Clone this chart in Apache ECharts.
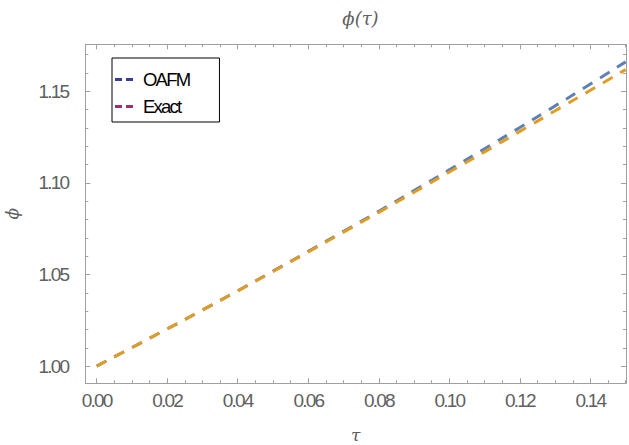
<!DOCTYPE html>
<html><head><meta charset="utf-8">
<script src="https://cdn.jsdelivr.net/npm/echarts@6/dist/echarts.min.js"></script>
<style>
html,body{margin:0;padding:0;background:#fff}
#c{width:629px;height:445px}
#c text[style*="Liberation"]{letter-spacing:-1.8px}
</style>
</head><body><div id="c"></div>
<script>
// ---- data ----
const tau   = [0, 0.01, 0.02, 0.03, 0.04, 0.05, 0.06, 0.07, 0.08, 0.09, 0.10, 0.11, 0.12, 0.13, 0.14, 0.15];
const oafm  = [1.0000, 1.0101, 1.0203, 1.0306, 1.0411, 1.0518, 1.0626, 1.0735, 1.0845, 1.0958, 1.1071, 1.1186, 1.1302, 1.1420, 1.1539, 1.1660];
const exact = [1.0000, 1.0101, 1.0203, 1.0306, 1.0410, 1.0516, 1.0623, 1.0731, 1.0839, 1.0949, 1.1059, 1.1169, 1.1281, 1.1393, 1.1505, 1.1618];
const xMajor = [0, 0.02, 0.04, 0.06, 0.08, 0.10, 0.12, 0.14];
const xMinor = [0.005, 0.01, 0.015, 0.025, 0.03, 0.035, 0.045, 0.05, 0.055, 0.065, 0.07, 0.075, 0.085, 0.09, 0.095, 0.105, 0.11, 0.115, 0.125, 0.13, 0.135, 0.145, 0.15];
const yMajor = [1.00, 1.05, 1.10, 1.15];
const yMinor = [1.01, 1.02, 1.03, 1.04, 1.06, 1.07, 1.08, 1.09, 1.11, 1.12, 1.13, 1.14, 1.16, 1.17];
const seriesNames = ['OAFM', 'Exact'];
const titleText = 'ϕ(τ)';
const xName = 'τ';
const yName = 'ϕ';

// ---- styles ----
const frameColor = '#a0a0a0';
const labelColor = '#606060';
const xMin = -0.00323, xMax = 0.1501, yMin = 0.9906, yMax = 1.1756;
const fontFam = '"Liberation Sans", Arial, sans-serif';
const nameFont = '"DejaVu Serif", serif';

function xAx(pos, ticks, len, showLine, showLabel) {
  return {
    type: 'value', position: pos, min: xMin, max: xMax, offset: 0,
    splitLine: {show: false},
    axisLine: {show: showLine, onZero: false, lineStyle: {color: frameColor, width: 1}},
    axisTick: {show: true, inside: true, length: len, customValues: ticks, lineStyle: {color: frameColor, width: 1}},
    axisLabel: showLabel ? {show: true, customValues: ticks, margin: 8, color: labelColor, fontSize: 19, fontFamily: fontFam,
      formatter: v => v.toFixed(2)} : {show: false},
    name: showLabel ? xName : '', nameLocation: 'middle', nameGap: 43,
    nameTextStyle: {color: labelColor, fontSize: 17, fontStyle: 'italic', fontFamily: nameFont}
  };
}
function yAx(pos, ticks, len, showLine, showLabel) {
  return {
    type: 'value', position: pos, min: yMin, max: yMax, offset: 0,
    splitLine: {show: false},
    axisLine: {show: showLine, onZero: false, lineStyle: {color: frameColor, width: 1}},
    axisTick: {show: true, inside: true, length: len, customValues: ticks, lineStyle: {color: frameColor, width: 1}},
    axisLabel: showLabel ? {show: true, customValues: ticks, margin: 17, color: labelColor, fontSize: 19, fontFamily: fontFam,
      formatter: v => v.toFixed(2)} : {show: false},
    name: showLabel ? yName : '', nameLocation: 'middle', nameGap: 63,
    nameTextStyle: {color: labelColor, fontSize: 17, fontStyle: 'italic', fontFamily: nameFont}
  };
}

const chart = echarts.init(document.getElementById('c'), null, {renderer: 'svg'});
chart.setOption({
  animation: false,
  backgroundColor: '#fff',
  title: {text: titleText, left: 355.5, textAlign: 'center', top: 4,
    textStyle: {color: labelColor, fontSize: 18, fontWeight: 'normal', fontStyle: 'italic', fontFamily: nameFont}},
  grid: {left: 85.3, right: 3, top: 44.3, bottom: 61.7, containLabel: false, outerBoundsMode: 'none'},
  xAxis: [
    xAx('bottom', xMajor, 5, true, true),
    xAx('bottom', xMinor, 3, false, false),
    xAx('top', xMajor, 5, true, false),
    xAx('top', xMinor, 3, false, false)
  ],
  yAxis: [
    yAx('left', yMajor, 5, true, true),
    yAx('left', yMinor, 3, false, false),
    yAx('right', yMajor, 5, true, false),
    yAx('right', yMinor, 3, false, false)
  ],
  legend: {
    orient: 'vertical', left: 112, top: 58,
    backgroundColor: '#fff', borderColor: '#000', borderWidth: 1, borderRadius: 0,
    padding: [12, 23, 6, 3], itemGap: 8,
    itemWidth: 18, itemHeight: 3,
    icon: 'path://M0,0h7v3h-7zM11,0h7v3h-7z',
    textStyle: {color: '#000', fontSize: 18.5, fontFamily: fontFam, padding: [0, 0, 0, 5]},
    data: [
      {name: seriesNames[0], itemStyle: {color: '#3d3d99', borderWidth: 0}, lineStyle: {width: 0}},
      {name: seriesNames[1], itemStyle: {color: '#9b306d', borderWidth: 0}, lineStyle: {width: 0}}
    ]
  },
  series: [
    {name: seriesNames[0], type: 'line', xAxisIndex: 0, yAxisIndex: 0, smooth: true, showSymbol: false, symbol: 'none',
      data: tau.map((t, i) => [t, oafm[i]]),
      itemStyle: {color: '#5e81b5'},
      lineStyle: {color: '#5e81b5', width: 3, type: [11, 9]}},
    {name: seriesNames[1], type: 'line', xAxisIndex: 0, yAxisIndex: 0, smooth: true, showSymbol: false, symbol: 'none',
      data: tau.map((t, i) => [t, exact[i]]),
      itemStyle: {color: '#e19c24'},
      lineStyle: {color: '#e19c24', width: 3, type: [11, 9]}}
  ]
});
</script></body></html>
